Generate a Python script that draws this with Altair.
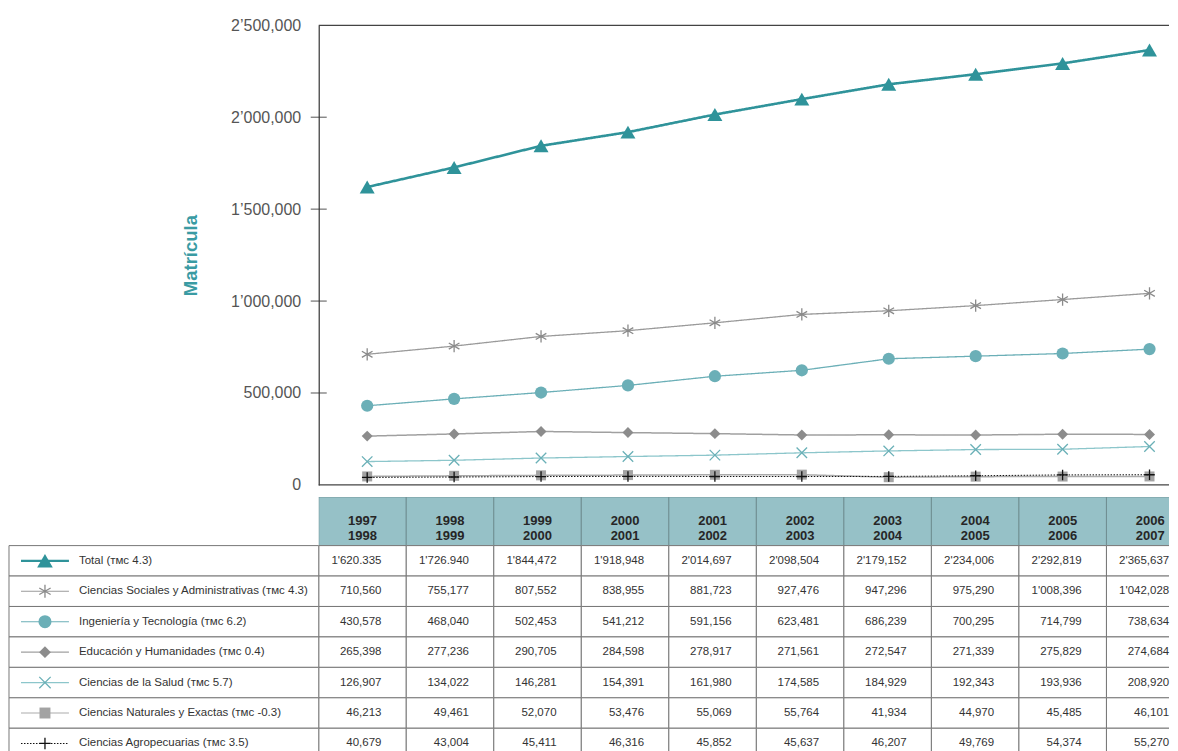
import re
import altair as alt
import pandas as pd

# ---------------- data ----------------
PERIODS = ["1997-1998", "1998-1999", "1999-2000", "2000-2001", "2001-2002",
           "2002-2003", "2003-2004", "2004-2005", "2005-2006", "2006-2007"]

SERIES = ["Total", "Ciencias Sociales y Administrativas", "Ingeniería y Tecnología",
          "Educación y Humanidades", "Ciencias de la Salud",
          "Ciencias Naturales y Exactas", "Ciencias Agropecuarias"]
TMC = ["4.3", "4.3", "6.2", "0.4", "5.7", "-0.3", "3.5"]

total = ["1'620.335", "1'726.940", "1'844,472", "1'918,948", "2'014,697",
         "2'098,504", "2'179,152", "2'234,006", "2'292,819", "2'365,637"]
sociales = ["710,560", "755,177", "807,552", "838,955", "881,723",
            "927,476", "947,296", "975,290", "1'008,396", "1'042,028"]
ingenieria = ["430,578", "468,040", "502,453", "541,212", "591,156",
              "623,481", "686,239", "700,295", "714,799", "738,634"]
educacion = ["265,398", "277,236", "290,705", "284,598", "278,917",
             "271,561", "272,547", "271,339", "275,829", "274,684"]
salud = ["126,907", "134,022", "146,281", "154,391", "161,980",
         "174,585", "184,929", "192,343", "193,936", "208,920"]
naturales = ["46,213", "49,461", "52,070", "53,476", "55,069",
             "55,764", "41,934", "44,970", "45,485", "46,101"]
agro = ["40,679", "43,004", "45,411", "46,316", "45,852",
        "45,637", "46,207", "49,769", "54,374", "55,270"]

TABLE = [total, sociales, ingenieria, educacion, salud, naturales, agro]
Y_TICKS = [0, 500000, 1000000, 1500000, 2000000, 2500000]
INNER_TICKS = [500000, 1000000, 1500000, 2000000]

# ---------------- styles ----------------
FONT = "'Liberation Sans', Arial, sans-serif"
ASTERISK = "M0,-1L0,1M-0.87,-0.5L0.87,0.5M-0.87,0.5L0.87,-0.5"
XMARK = "M-1,-1L1,1M-1,1L1,-1"
PLUS = "M0,-1L0,1M-1,0L1,0"

STYLE = {
    "Total": dict(line="#2F939A", w=2.6, dash=[1, 0], shape="triangle-up", filled=True, size=225, m="#2F939A"),
    "Ciencias Sociales y Administrativas": dict(line="#9A9A9A", w=1.3, dash=[1, 0], shape=ASTERISK, filled=False, size=150, m="#8A8A8A"),
    "Ingeniería y Tecnología": dict(line="#6BAFB7", w=1.3, dash=[1, 0], shape="circle", filled=True, size=150, m="#6BAFB7"),
    "Educación y Humanidades": dict(line="#A0A0A0", w=1.5, dash=[1, 0], shape="diamond", filled=True, size=120, m="#8C8C8C"),
    "Ciencias de la Salud": dict(line="#8CC6CB", w=1.3, dash=[1, 0], shape=XMARK, filled=False, size=110, m="#6AB0B7"),
    "Ciencias Naturales y Exactas": dict(line="#ABABAB", w=1.5, dash=[1, 0], shape="square", filled=True, size=100, m="#A3A3A3"),
    "Ciencias Agropecuarias": dict(line="#111111", w=1.0, dash=[1.5, 1.5], shape=PLUS, filled=False, size=110, m="#111111"),
}


def to_num(s):
    return int(re.sub(r"[^0-9]", "", s))


long_rows, cell_rows, label_rows = [], [], []
for i, (s, vals) in enumerate(zip(SERIES, TABLE)):
    label_rows.append(dict(series=s, label=f"{s} (ᴛᴍᴄ {TMC[i]})",
                           y0=1.6 + i, y1=2.6 + i, ym=2.1 + i))
    for p, v in zip(PERIODS, vals):
        long_rows.append(dict(period=p, series=s, value=to_num(v)))
        cell_rows.append(dict(period=p, series=s, text=v,
                              y0=1.6 + i, y1=2.6 + i, ym=2.1 + i))
df = pd.DataFrame(long_rows)
cells = pd.DataFrame(cell_rows)
labels = pd.DataFrame(label_rows)
header = pd.DataFrame(dict(period=PERIODS,
                           label=[p.replace("-", "\n") for p in PERIODS],
                           y0=0.0, y1=1.6, ym=0.8))
ticks = pd.DataFrame(dict(v=INNER_TICKS))
frame = pd.DataFrame(dict(v=[0, 2500000]))

W = 851  # visible plot width (page is cut at the right, like the reference)

# ---------------- line chart ----------------
X = alt.X("period:N", scale=alt.Scale(type="point", domain=PERIODS, range=[5, 875], padding=0.5), axis=None)
label_expr = ("datum.value >= 1000000 ? floor(datum.value / 1000000) + '\u2019' + "
              "format(datum.value % 1000000, '07,') : format(datum.value, ',')")
Y_AXIS = alt.Axis(values=Y_TICKS, labelExpr=label_expr, ticks=False, domain=True,
                  domainColor="#444444", domainWidth=1.3, grid=False,
                  labelFontSize=16, labelFont=FONT, labelColor="#555555", labelPadding=18,
                  title="Matrícula", titleFont=FONT, titleFontSize=18.5,
                  titleFontWeight="bold", titleColor="#3A9BA3", titlePadding=30)
YS = alt.Scale(domain=[0, 2500000], nice=False)

layers = [
    alt.Chart(frame).mark_rule(color="#444444", strokeWidth=1.3)
    .encode(y=alt.Y("v:Q", scale=YS, axis=Y_AXIS)),
    alt.Chart(ticks).mark_tick(orient="horizontal", size=16, thickness=1.2, color="#333333")
    .encode(y=alt.Y("v:Q", scale=YS, axis=Y_AXIS), x=alt.value(0)),
]
for s in SERIES:
    st = STYLE[s]
    d = alt.Chart(df).transform_filter(alt.datum.series == s)
    layers.append(d.mark_line(color=st["line"], strokeWidth=st["w"], strokeDash=st["dash"])
                  .encode(x=X, y=alt.Y("value:Q", scale=YS, axis=Y_AXIS)))
    layers.append(d.mark_point(shape=st["shape"], filled=st["filled"], size=st["size"],
                               color=st["m"], opacity=1, strokeWidth=1.3)
                  .encode(x=X, y=alt.Y("value:Q", scale=YS, axis=Y_AXIS)))

top = alt.layer(*layers).properties(width=W, height=460)

# ---------------- table ----------------
XB = alt.X("period:N", scale=alt.Scale(type="band", domain=PERIODS, range=[0, 876],
                                       paddingInner=0, paddingOuter=0), axis=None)
RS = alt.Scale(domain=[0, 8.6], reverse=True, nice=False, zero=False)


def ry(f):
    return alt.Y(f"{f}:Q", scale=RS, axis=None)


tlayers = [
    alt.Chart(header).mark_rect(fill="#96C1C7", stroke="#6F8F93", strokeWidth=1, clip=True)
    .encode(x=XB, y=ry("y0"), y2="y1"),
    alt.Chart(header).mark_text(align="center", baseline="middle", lineBreak="\n", lineHeight=15,
                                fontSize=13, fontWeight="bold", font=FONT, color="#262626")
    .encode(x=XB, y=ry("ym"), text="label:N"),
    alt.Chart(cells).mark_rect(fill="white", stroke="#777777", strokeWidth=1, clip=True)
    .encode(x=XB, y=ry("y0"), y2="y1"),
    alt.Chart(cells).mark_text(align="right", baseline="middle", dx=19, fontSize=11.5,
                               font=FONT, color="#333333")
    .encode(x=XB, y=ry("ym"), text="text:N"),
    alt.Chart(labels).mark_rect(fill="white", stroke="#777777", strokeWidth=1)
    .encode(x=alt.value(-310), x2=alt.value(0), y=ry("y0"), y2="y1"),
    alt.Chart(labels).mark_text(align="left", baseline="middle", fontSize=11.5,
                                font=FONT, color="#333333")
    .encode(x=alt.value(-240), y=ry("ym"), text="label:N"),
]
for s in SERIES:
    st = STYLE[s]
    d = alt.Chart(labels).transform_filter(alt.datum.series == s)
    tlayers.append(d.mark_rule(color=st["line"], strokeWidth=2.4 if s == "Total" else 1.1,
                               strokeDash=st["dash"])
                   .encode(x=alt.value(-298), x2=alt.value(-250), y=ry("ym")))
    tlayers.append(d.mark_point(shape=st["shape"], filled=st["filled"], size=st["size"] + 20,
                                color=st["m"], opacity=1, strokeWidth=1.3)
                   .encode(x=alt.value(-274), y=ry("ym")))

table = alt.layer(*tlayers).properties(width=W, height=262)

chart = (
    alt.vconcat(top, table, spacing=4)
    .properties(padding={"left": 0, "top": 9, "right": 0, "bottom": 0}, background="white")
    .configure_view(stroke=None)
)

chart.save("out.html", embed_options={"renderer": "svg", "actions": False})
